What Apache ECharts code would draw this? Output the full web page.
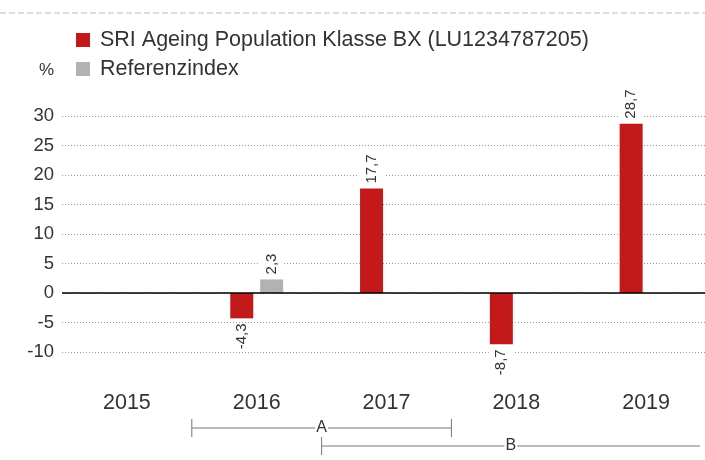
<!DOCTYPE html>
<html><head><meta charset="utf-8">
<script src="https://cdn.jsdelivr.net/npm/echarts@6/dist/echarts.min.js"></script>
<style>html,body{margin:0;padding:0;background:#fff}#c{width:705px;height:460px}</style>
</head><body><div id="c"></div>
<script>
var categories = ['2015', '2016', '2017', '2018', '2019'];
var fundName = 'SRI Ageing Population Klasse BX (LU1234787205)';
var fundValues = [null, -4.3, 17.7, -8.7, 28.7];
var indexName = 'Referenzindex';
var indexValues = [null, 2.3, null, null, null];
var yTicks = [-10, -5, 0, 5, 10, 15, 20, 25, 30];
var periodLabels = ['A', 'B'];
var periodStarts = ['2016', '2017'];
var periodEnds = ['2017', null];

var FONT = '"Liberation Sans", Arial, Helvetica, sans-serif';
var chart = echarts.init(document.getElementById('c'), null, {renderer: 'canvas'});

function fmt(v) { return String(v).replace('.', ','); }
function labelFor(v) {
  var neg = v < 0;
  return {
    show: true, rotate: 90,
    position: neg ? 'bottom' : 'top',
    align: neg ? 'right' : 'left',
    verticalAlign: 'middle',
    distance: 5,
    fontFamily: FONT, fontSize: 15, color: '#333',
    backgroundColor: '#fff', padding: [5, 0, 5, 0],
    formatter: function (p) { return fmt(p.value); }
  };
}
function mkData(arr) {
  return arr.map(function (v) {
    if (v === null) return null;
    return {value: v, label: labelFor(v)};
  });
}

var option = {
  animation: false,
  textStyle: {fontFamily: FONT},
  legend: {
    orient: 'vertical', left: 76, top: 29, padding: 0,
    itemWidth: 14, itemHeight: 14, itemGap: 7,
    icon: 'rect',
    textStyle: {fontFamily: FONT, fontSize: 21.5, color: '#333', lineHeight: 21, padding: [0, 0, 0, 5]},
    data: [fundName, indexName]
  },
  grid: {left: 62, width: 649, top: 116, bottom: 108, containLabel: false, outerBoundsMode: 'none'},
  xAxis: {
    type: 'category', data: categories,
    axisLine: {show: false}, axisTick: {show: false},
    axisLabel: {fontFamily: FONT, fontSize: 21.5, color: '#333', margin: 40}
  },
  yAxis: {
    type: 'value', min: yTicks[0], max: yTicks[yTicks.length - 1], interval: 5,
    axisLine: {show: false}, axisTick: {show: false},
    axisLabel: {fontFamily: FONT, fontSize: 18.5, color: '#333', margin: 8},
    splitLine: {lineStyle: {type: [1, 2], color: '#999', width: 1}}
  },
  series: [
    {
      name: fundName, type: 'bar', data: mkData(fundValues),
      barWidth: 23, barGap: '30%',
      itemStyle: {color: '#c4191a'},
      markLine: {
        silent: true, symbol: 'none', label: {show: false},
        lineStyle: {color: '#000', type: 'solid', width: 1.5},
        data: [{yAxis: 0}]
      },
      z: 3
    },
    {
      name: indexName, type: 'bar', data: mkData(indexValues),
      barWidth: 23, barGap: '30%',
      itemStyle: {color: '#b2b2b2'}, z: 3
    }
  ]
};
chart.setOption(option);

// annotation graphics
var c0 = chart.convertToPixel({xAxisIndex: 0}, categories[0]);
var c1 = chart.convertToPixel({xAxisIndex: 0}, categories[1]);
var band = c1 - c0;
function leftEdge(cat) { return chart.convertToPixel({xAxisIndex: 0}, cat) - band / 2; }
function rightEdge(cat) { return chart.convertToPixel({xAxisIndex: 0}, cat) + band / 2; }

var graphics = [
  {type: 'line', shape: {x1: 0, y1: 13, x2: 705, y2: 13}, style: {stroke: '#bbb', lineWidth: 1.2, lineDash: [6, 3]}},
  {type: 'text', left: 39, top: 62, style: {text: '%', fontFamily: FONT, fontSize: 17, fill: '#333'}}
];
var rowY = [428, 446];
periodLabels.forEach(function (lab, i) {
  var x1 = leftEdge(periodStarts[i]);
  var x2 = periodEnds[i] ? rightEdge(periodEnds[i]) : 700;
  var y = rowY[i];
  graphics.push({type: 'line', shape: {x1: x1, y1: y, x2: x2, y2: y}, style: {stroke: '#777', lineWidth: 1}});
  graphics.push({type: 'line', shape: {x1: x1, y1: y - 9, x2: x1, y2: y + 9}, style: {stroke: '#777', lineWidth: 1}});
  if (periodEnds[i]) graphics.push({type: 'line', shape: {x1: x2, y1: y - 9, x2: x2, y2: y + 9}, style: {stroke: '#777', lineWidth: 1}});
  graphics.push({type: 'text', x: (x1 + x2) / 2, y: y, style: {text: lab, fontFamily: FONT, fontSize: 16, fill: '#333', align: 'center', verticalAlign: 'middle', backgroundColor: '#fff', padding: [0, 1]}});
});
chart.setOption({graphic: graphics});
</script></body></html>
